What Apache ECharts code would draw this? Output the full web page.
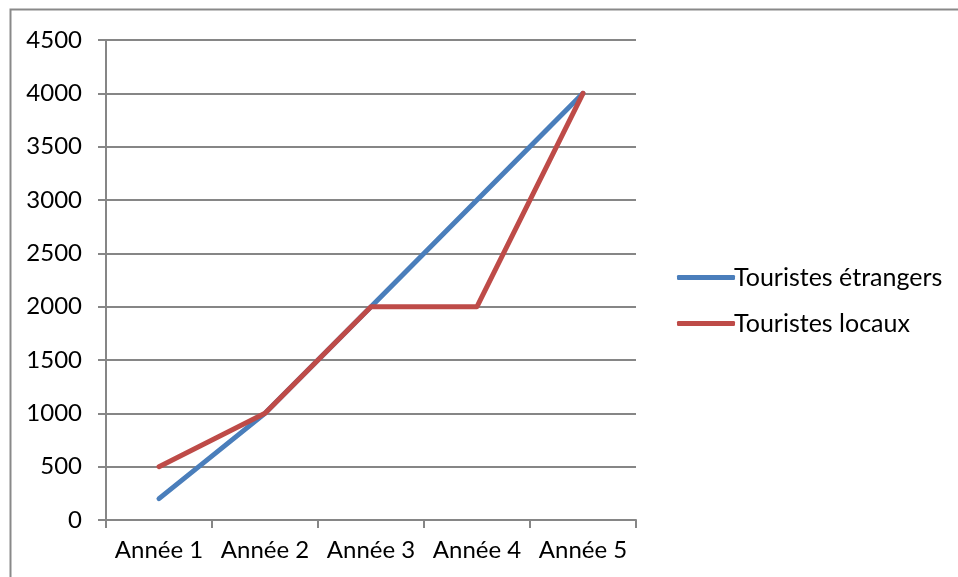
<!DOCTYPE html>
<html>
<head>
<meta charset="utf-8">
<script src="https://cdn.jsdelivr.net/npm/echarts@6/dist/echarts.min.js"></script>
<style>
  html, body { margin: 0; padding: 0; background: #fff; }
  #chart { width: 958px; height: 577px; }
</style>
</head>
<body>
<div id="chart"></div>
<script>
const categories = ['Année 1', 'Année 2', 'Année 3', 'Année 4', 'Année 5']
const etrangers = [200, 1000, 2000, 3000, 4000]
const locaux = [500, 1000, 2000, 2000, 4000]

const chart = echarts.init(document.getElementById('chart'))
const font = 'Lato, "Open Sans", sans-serif'

const option = {
  animation: false,
  textStyle: { fontFamily: font },
  graphic: [
    {
      type: 'rect',
      shape: { x: 10.5, y: 9.5, width: 1000, height: 700 },
      style: { fill: 'none', stroke: '#898989', lineWidth: 2 },
      silent: true
    }
  ],
  grid: { left: 106, right: 322, top: 40, bottom: 57 },
  legend: {
    orient: 'vertical',
    left: 672,
    top: 260,
    itemWidth: 58,
    itemHeight: 5,
    itemGap: 21,
    icon: 'roundRect',
    textStyle: { fontSize: 25, color: '#000', fontFamily: font, padding: [0, 0, 0, -6] },
    data: ['Touristes étrangers', 'Touristes locaux']
  },
  xAxis: {
    type: 'category',
    data: categories,
    boundaryGap: true,
    axisLine: { lineStyle: { color: '#868686', width: 2 } },
    axisTick: { show: true, interval: 0, length: 8, lineStyle: { color: '#868686', width: 2 } },
    axisLabel: { color: '#000', fontSize: 24, margin: 18, interval: 0, hideOverlap: false, fontFamily: font }
  },
  yAxis: {
    type: 'value',
    min: 0,
    max: 4500,
    interval: 500,
    axisLine: { show: true, lineStyle: { color: '#868686', width: 2 } },
    axisTick: { show: true, length: 8, lineStyle: { color: '#868686', width: 2 } },
    splitLine: { lineStyle: { color: '#868686', width: 2 } },
    axisLabel: { color: '#000', fontSize: 24, margin: 24, fontFamily: font, formatter: v => String(v) }
  },
  series: [
    {
      name: 'Touristes étrangers',
      type: 'line',
      data: etrangers,
      showSymbol: false,
      symbol: 'none',
      color: '#4a7ebb',
      lineStyle: { width: 5, color: '#4a7ebb', cap: 'round', join: 'round' }
    },
    {
      name: 'Touristes locaux',
      type: 'line',
      data: locaux,
      showSymbol: false,
      symbol: 'none',
      color: '#be4b48',
      lineStyle: { width: 5, color: '#be4b48', cap: 'round', join: 'round' }
    }
  ]
}

chart.setOption(option)
</script>
</body>
</html>
